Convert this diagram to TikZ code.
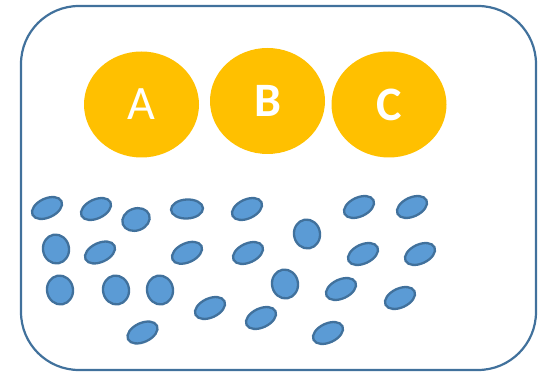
\documentclass[tikz,border=0pt]{standalone}
\usepackage{fontspec}
\setmainfont{Carlito}
\usetikzlibrary{shapes.geometric}
\definecolor{blu}{HTML}{5B9BD5}
\definecolor{bdr}{HTML}{41719C}
\definecolor{org}{HTML}{FFC000}
\tikzset{
  big/.style={ellipse, fill=org, minimum width=115pt, minimum height=106pt, inner sep=0pt, text=white, font=\fontsize{48}{50}\selectfont},
  tilt/.style={ellipse, draw=bdr, fill=blu, line width=2.3pt, minimum width=32pt, minimum height=19pt, inner sep=0pt, rotate=25},
  upr/.style={ellipse, draw=bdr, fill=blu, line width=2.3pt, minimum width=26pt, minimum height=29pt, inner sep=0pt, rotate=10},
}
\begin{document}
\begin{tikzpicture}[x=1pt,y=1pt]
\useasboundingbox (0,0) rectangle (542,372);
\draw[bdr, line width=2.2pt, rounded corners=58pt] (21,366) rectangle (536,2);
\node[big] (A) at (141.5,267.5) {A};
\node[big, font=\fontsize{48}{50}\selectfont\bfseries] (B) at (267.5,271) {B};
\node[big, font=\fontsize{48}{50}\selectfont\bfseries] (C) at (389,267.5) {C};
% row 1
\node[tilt] (b1) at (47,164) {};
\node[tilt] (b2) at (96,163) {};
\node[tilt, minimum width=28pt, minimum height=22pt, rotate=-5] (b3) at (136,152.5) {};
\node[tilt, rotate=-22] (b4) at (187,163) {};
\node[tilt] (b5) at (247,163) {};
\node[tilt] (b17) at (359,165) {};
\node[tilt] (b18) at (412,165) {};
% row 2
\node[upr] (b6) at (56,123) {};
\node[tilt] (b7) at (100,119.5) {};
\node[tilt] (b8) at (187,119.2) {};
\node[tilt] (b9) at (248,119) {};
\node[upr] (b19) at (307,138) {};
\node[tilt] (b20) at (363,118) {};
\node[tilt] (b21) at (420,118) {};
% row 3
\node[upr] (b10) at (60,82) {};
\node[upr] (b11) at (116,82) {};
\node[upr] (b12) at (160,82) {};
\node[tilt] (b13) at (210,64) {};
\node[tilt] (b14) at (261,54) {};
\node[upr] (b22) at (285,88) {};
\node[tilt] (b23) at (341,83) {};
\node[tilt] (b24) at (400,74) {};
% row 4
\node[tilt] (b15) at (142.5,39.5) {};
\node[tilt] (b25) at (328,39) {};
\end{tikzpicture}
\end{document}
